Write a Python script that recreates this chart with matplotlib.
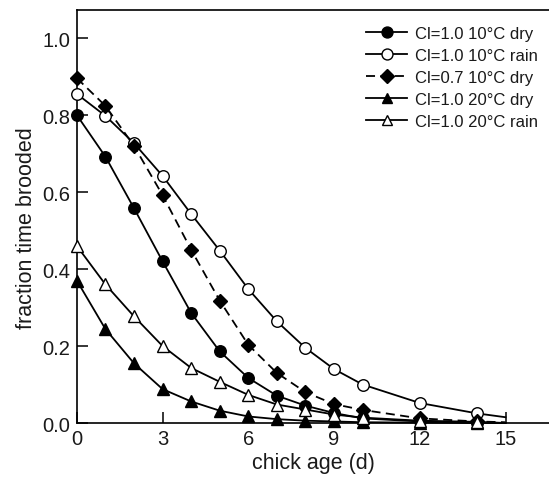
import matplotlib
matplotlib.use("Agg")
import matplotlib.pyplot as plt

plt.rcParams['font.family'] = ['Liberation Sans', 'DejaVu Sans']

days = [0, 1, 2, 3, 4, 5, 6, 7, 8, 9, 10, 12, 14, 15]

cl10_dry  = [0.80, 0.692, 0.558, 0.42, 0.286, 0.186, 0.117, 0.071, 0.045, 0.026, 0.012, 0.004, 0.001, 0.0]
cl10_rain = [0.855, 0.798, 0.727, 0.642, 0.543, 0.448, 0.348, 0.264, 0.195, 0.140, 0.100, 0.052, 0.025, 0.015]
cl07_dry  = [0.896, 0.824, 0.72, 0.592, 0.45, 0.318, 0.203, 0.13, 0.08, 0.049, 0.034, 0.012, 0.004, 0.002]
cl20_dry  = [0.37, 0.244, 0.155, 0.088, 0.056, 0.032, 0.017, 0.010, 0.006, 0.004, 0.002, 0.001, 0.0, 0.0]
cl20_rain = [0.46, 0.36, 0.277, 0.20, 0.143, 0.107, 0.073, 0.048, 0.035, 0.022, 0.014, 0.006, 0.003, 0.0]

labels = ["Cl=1.0 10°C dry", "Cl=1.0 10°C rain", "Cl=0.7 10°C dry",
          "Cl=1.0 20°C dry", "Cl=1.0 20°C rain"]

xticks = [0, 3, 6, 9, 12, 15]
yticks = [0.0, 0.2, 0.4, 0.6, 0.8, 1.0]

fig = plt.figure(figsize=(5.49, 4.81), dpi=100)
ax = fig.add_axes([0.140, 0.1185, 0.862, 0.8585])

series = [
    (cl10_dry, 'o', 'black', '-'),
    (cl10_rain, 'o', 'white', '-'),
    (cl07_dry, 'D', 'black', (0, (5, 3))),
    (cl20_dry, '^', 'black', '-'),
    (cl20_rain, '^', 'white', '-'),
]

mx = days[:-1]
for (vals, mk, fc, ls), lab in zip(series, labels):
    ms = 7.5 if mk == 'D' else 8.3
    ax.plot(days, vals, color='black', lw=1.3, ls=ls, zorder=2, clip_on=False)
    ax.plot(mx, vals[:-1], ls='none', marker=mk, mfc=fc, mec='black', mew=1.0,
            ms=ms, zorder=3, clip_on=False)
    ax.plot([], [], color='black', lw=1.3, ls=ls, marker=mk, mfc=fc,
            mec='black', mew=1.0, ms=ms * 0.95, label=lab)

ax.set_xlim(0, 16.56)
ax.set_ylim(0, 1.073)
ax.set_xticks(xticks)
ax.set_yticks(yticks)
ax.set_yticklabels([f"{v:.1f}" for v in yticks])
ax.tick_params(direction='in', length=8, width=1.1, labelsize=14.5,
               labelcolor='#1a1a1a')
ax.tick_params(axis='y', pad=5)
ax.tick_params(axis='x', pad=4)
ax.spines['right'].set_visible(False)
for s in ['left', 'bottom', 'top']:
    ax.spines[s].set_linewidth(1.2)

ax.set_xlabel("chick age (d)", fontsize=15.5, labelpad=3, color='#1a1a1a')
ax.set_ylabel("fraction time brooded", fontsize=15.5, color='#1a1a1a')
ax.yaxis.set_label_coords(-0.085, 0.475)

leg = ax.legend(loc='upper right', bbox_to_anchor=(1.0, 0.99), frameon=False,
                fontsize=12, handlelength=2.45, handletextpad=0.5,
                labelspacing=0.42, borderaxespad=0.3)
for t in leg.get_texts():
    t.set_color('#1a1a1a')

fig.savefig("out.png", dpi=100)
